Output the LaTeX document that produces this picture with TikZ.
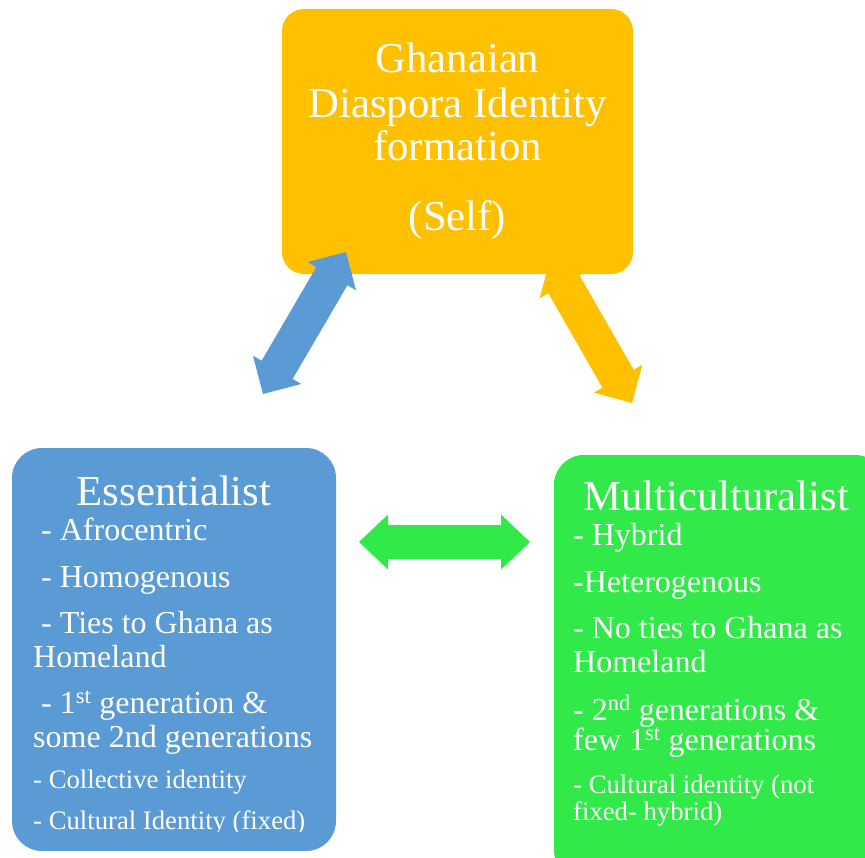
\documentclass[tikz,border=0pt]{standalone}
\usepackage{fontspec}
\setmainfont{Liberation Serif}
\usetikzlibrary{calc}
\definecolor{orangebox}{HTML}{FFC000}
\definecolor{bluebox}{HTML}{5B9BD5}
\definecolor{greenbox}{RGB}{50,233,74}
% #1 start, #2 end, #3 colour, #4 shaft half width, #5 head half width, #6 head length
\newcommand\bigdoublearrow[6]{%
  \fill[#3] (#1)
    -- ($(#1)!#6!(#2)!#5!90:(#2)$)
    -- ($(#1)!#6!(#2)!#4!90:(#2)$)
    -- ($(#2)!#6!(#1)!#4!90:(#2)$)
    -- ($(#2)!#6!(#1)!#5!90:(#2)$)
    -- (#2)
    -- ($(#2)!#6!(#1)!#5!-90:(#2)$)
    -- ($(#2)!#6!(#1)!#4!-90:(#2)$)
    -- ($(#1)!#6!(#2)!#4!-90:(#2)$)
    -- ($(#1)!#6!(#2)!#5!-90:(#2)$)
    -- cycle;}
\tikzset{
  titletxt/.style={font=\fontsize{42.7}{44}\selectfont, text=white, inner sep=0, anchor=base},
  itemtxt/.style={font=\fontsize{32}{36}\selectfont, text=white, inner sep=0, anchor=base west},
  smalltxt/.style={font=\fontsize{26.7}{30}\selectfont, text=white, inner sep=0, anchor=base west},
}
\begin{document}
\begin{tikzpicture}[x=1pt,y=-1pt]
\useasboundingbox (0,0) rectangle (865,857);
\clip (0,0) rectangle (865,857);
% orange arrow (behind top box)
\coordinate (oA) at (550,260);
\coordinate (oB) at (632,403);
\bigdoublearrow{oA}{oB}{orangebox}{18pt}{28pt}{28pt}
% boxes
\node[fill=orangebox, rounded corners=22pt, minimum width=351pt, minimum height=265pt, inner sep=0] (self) at (457.5,141.5) {};
\node[fill=bluebox, rounded corners=30pt, minimum width=324pt, minimum height=403pt, inner sep=0] (ess) at (174,649.5) {};
\node[fill=greenbox, rounded corners=30pt, minimum width=331pt, minimum height=425pt, inner sep=0] (mul) at (719.5,667.5) {};
% blue arrow (over top box)
\coordinate (bA) at (346,252);
\coordinate (bB) at (263,394);
\bigdoublearrow{bA}{bB}{bluebox}{18pt}{28pt}{28pt}
% green arrow
\coordinate (gA) at (359,542);
\coordinate (gB) at (530,542);
\bigdoublearrow{gA}{gB}{greenbox}{17pt}{27.5pt}{29pt}
% top text
\node[titletxt] (t1) at (457.5,72) {Ghanaian};
\node[titletxt] (t2) at (457.5,117) {Diaspora Identity};
\node[titletxt] (t3) at (457.5,160) {formation};
\node[titletxt] (t4) at (457.5,230) {(Self)};
% left text
\node[titletxt] (e0) at (174,505) {Essentialist};
\node[itemtxt] (e1) at (41,540) {- Afrocentric};
\node[itemtxt] (e2) at (41,587) {- Homogenous};
\node[itemtxt] (e3) at (41,633) {- Ties to Ghana as};
\node[itemtxt] (e4) at (33,667) {Homeland};
\node[itemtxt] (e5) at (41,713) {- 1\textsuperscript{st} generation \&};
\node[itemtxt] (e6) at (33,747) {some 2nd generations};
\node[smalltxt] (e7) at (33,788) {- Collective identity};
\begin{scope}
\clip (0,700) rectangle (865,831);
\node[smalltxt] (e8) at (33,829) {- Cultural Identity (fixed)};
\end{scope}
% right text
\node[titletxt] (m0) at (716,510) {Multiculturalist};
\node[itemtxt] (m1) at (573,545) {- Hybrid};
\node[itemtxt] (m2) at (573,592) {-Heterogenous};
\node[itemtxt] (m3) at (573,638) {- No ties to Ghana as};
\node[itemtxt] (m4) at (573,672) {Homeland};
\node[itemtxt] (m5) at (573,720) {- 2\textsuperscript{nd} generations \&};
\node[itemtxt] (m6) at (573,750) {few 1\textsuperscript{st} generations};
\node[smalltxt] (m7) at (573,793) {- Cultural identity (not};
\node[smalltxt] (m8) at (573,820) {fixed- hybrid)};
\end{tikzpicture}
\end{document}
